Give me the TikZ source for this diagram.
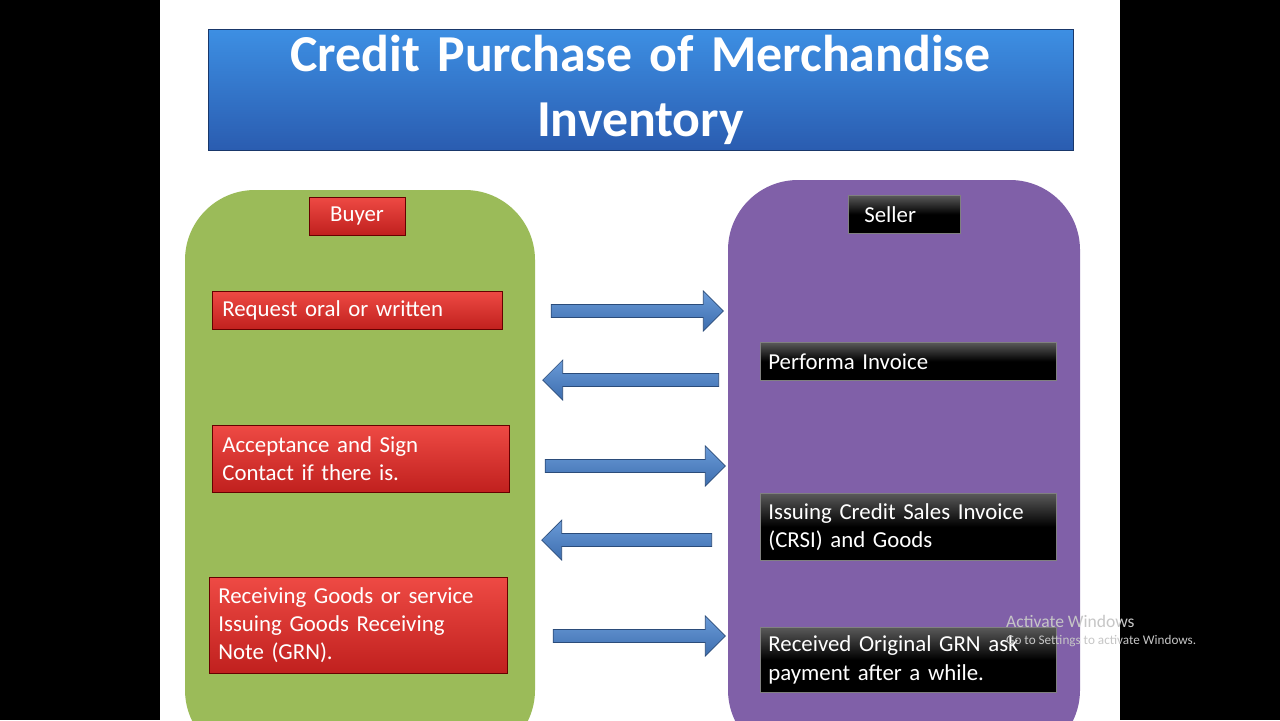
\documentclass[tikz,border=0pt]{standalone}
\usepackage{fontspec}
\setmainfont{Carlito}
\usetikzlibrary{shapes.arrows}
\definecolor{titletop}{HTML}{3D8FE3}
\definecolor{titlebot}{HTML}{2A5CB0}
\definecolor{panelgreen}{HTML}{9BBB59}
\definecolor{panelpurple}{HTML}{8060A8}
\definecolor{redtop}{HTML}{EE4A44}
\definecolor{redbot}{HTML}{C0201E}
\definecolor{arrowtop}{HTML}{6A9BD8}
\definecolor{arrowbot}{HTML}{3D6DAE}
\begin{document}
\begin{tikzpicture}[x=0.02cm,y=-0.02cm]

        \tikzstyle{panel} = [rounded corners=1.4cm];
        \tikzstyle{redbox} = [draw=red!40!black, top color=redtop, bottom color=redbot, text=white, font=\fontsize{13}{16}\selectfont, align=left, anchor=north west, inner xsep=0.2cm, inner ysep=0pt];
        \tikzstyle{blackbox} = [draw=gray, top color=black!65, bottom color=black, middle color=black, text=white, font=\fontsize{13}{16}\selectfont, align=left, anchor=north west, inner xsep=0.16cm, inner ysep=0pt];
        \tikzstyle{barrow} = [single arrow, draw=arrowbot!70!black, top color=arrowtop, bottom color=arrowbot, inner sep=0.09cm, minimum width=0.8cm, single arrow head extend=0.2cm];

        \clip (0,0) rectangle (1280,720);
        \fill[black] (0,0) rectangle (1280,720);
        \fill[white] (160,0) rectangle (1120,720);

        % title banner
        \node[draw=titlebot!60!black, top color=titletop, bottom color=titlebot, minimum width=865*0.02cm, minimum height=120*0.02cm, text width=850*0.02cm, align=center, text=white, font=\bfseries\fontsize{29.5}{37}\selectfont] (title) at (640.5,90) {\raisebox{-4pt}{}Credit Purchase of Merchandise\\Inventory};

        % panels
        \fill[panel, fill=panelgreen] (185,190) rectangle (535,760);
        \fill[panel, fill=panelpurple] (728,180) rectangle (1080,760);
        \node[redbox, minimum width=96*0.02cm, minimum height=38*0.02cm, anchor=center, text depth=2pt] (buyer) at (357,216) {Buyer};
        \node[blackbox, minimum width=112*0.02cm, minimum height=38*0.02cm, text width=80*0.02cm, inner xsep=0.2cm] (seller) at (848,195) {Seller};

        % buyer steps
        \node[redbox, minimum width=290*0.02cm, minimum height=38*0.02cm, text width=270*0.02cm] (request) at (212,291) {Request oral or written};
        \node[redbox, minimum width=297*0.02cm, minimum height=67*0.02cm, text width=277*0.02cm] (accept) at (212,425) {Acceptance and Sign\\Contact if there is.};
        \node[redbox, minimum width=297*0.02cm, minimum height=96*0.02cm, text width=280*0.02cm, inner xsep=0.18cm] (receive) at (209,577) {Receiving Goods or service\\Issuing Goods Receiving\\Note (GRN).};

        % seller steps
        \node[blackbox, minimum width=296*0.02cm, minimum height=38*0.02cm, text width=280*0.02cm] (performa) at (760,342) {Performa Invoice};
        \node[blackbox, minimum width=296*0.02cm, minimum height=67*0.02cm, text width=280*0.02cm] (crsi) at (760,493) {Issuing Credit Sales Invoice\\(CRSI) and Goods};
        \node[blackbox, minimum width=296*0.02cm, minimum height=65*0.02cm, text width=280*0.02cm] (grn) at (760,627) {Received Original GRN ask\\payment after a while.};

        % flow arrows
        \node[barrow, minimum height=172*0.02cm] (a1) at (634,311) {};
        \node[barrow, shape border rotate=180, minimum height=176*0.02cm] (a2) at (634,380) {};
        \node[barrow, minimum height=180*0.02cm] (a3) at (632,466) {};
        \node[barrow, shape border rotate=180, minimum height=170*0.02cm] (a4) at (630,540) {};
        \node[barrow, minimum height=172*0.02cm] (a5) at (636,636) {};

        \node[text=gray!45, font=\fontsize{10}{12}\selectfont, anchor=west, align=left] (watermark) at (1000,631) {Activate Windows\\[-2pt]{\fontsize{7.5}{9}\selectfont Go to Settings to activate Windows.}};

\end{tikzpicture}
\end{document}
